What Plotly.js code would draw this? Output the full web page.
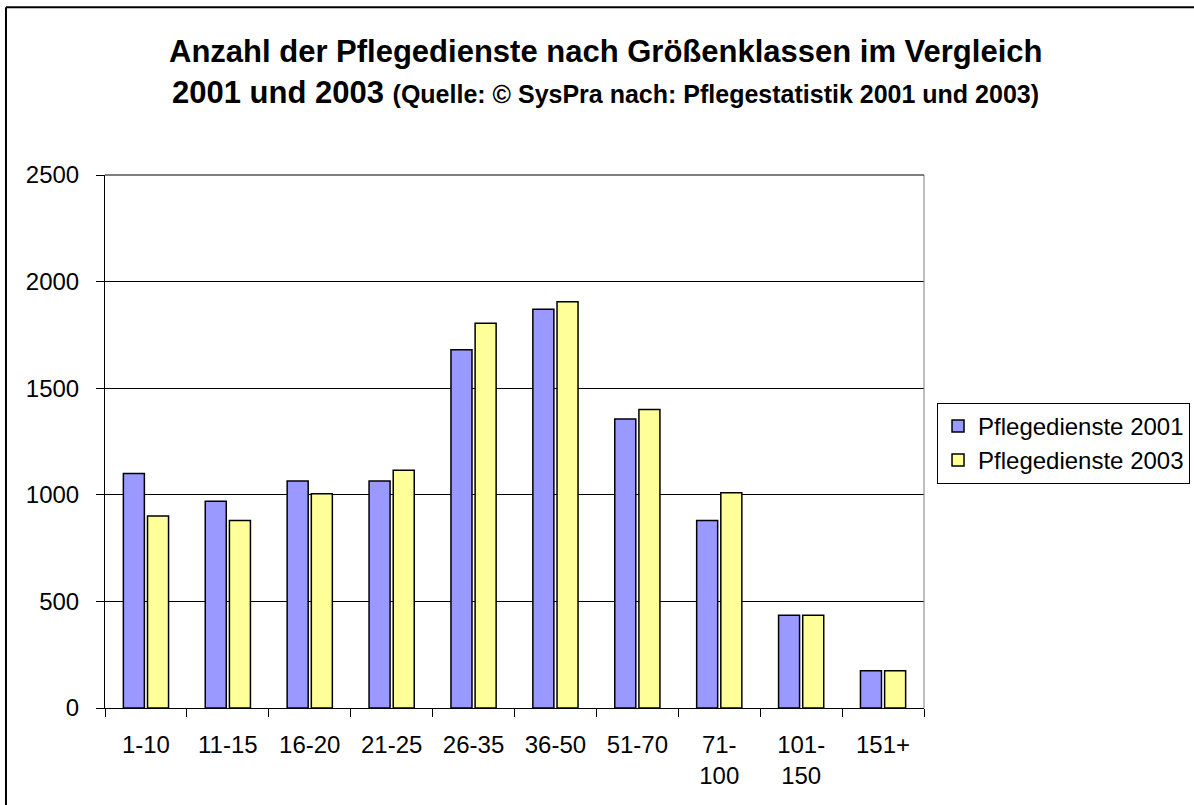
<!DOCTYPE html>
<html>
<head>
<meta charset="utf-8">
<script src="https://cdn.plot.ly/plotly-3.0.1.min.js"></script>
<style>
  html, body { margin: 0; padding: 0; background: #fff; }
  #chart { width: 1194px; height: 805px; }
</style>
</head>
<body>
<div id="chart"></div>
<script>
const categories = ["1-10", "11-15", "16-20", "21-25", "26-35", "36-50", "51-70", "71-100", "101-150", "151+"];
const tickLabels = ["1-10", "11-15", "16-20", "21-25", "26-35", "36-50", "51-70", "71-<br>100", "101-<br>150", "151+"];
const values2001 = [1100, 970, 1065, 1065, 1680, 1870, 1355, 880, 435, 175];
const values2003 = [900, 880, 1005, 1115, 1805, 1905, 1400, 1010, 435, 175];
const seriesNames = ["Pflegedienste 2001", "Pflegedienste 2003"];
const yTicks = [0, 500, 1000, 1500, 2000, 2500];

const FONT = "Arial, 'Liberation Sans', sans-serif";

const traces = [
  {
    type: "bar", name: seriesNames[0], x: categories, y: values2001,
    marker: { color: "#9999FF", line: { color: "#000000", width: 1.5 } }
  },
  {
    type: "bar", name: seriesNames[1], x: categories, y: values2003,
    marker: { color: "#FFFF99", line: { color: "#000000", width: 1.5 } }
  }
];

const layout = {
  width: 1194, height: 805,
  margin: { l: 105, r: 270, t: 175, b: 96.5, pad: 0, autoexpand: false },
  paper_bgcolor: "#ffffff", plot_bgcolor: "#ffffff",
  font: { family: FONT, size: 24, color: "#000000" },
  showlegend: true,
  bargap: 0.41, bargroupgap: 0.13,
  xaxis: {
    type: "category",
    tickvals: categories, ticktext: tickLabels,
    tickson: "boundaries", ticks: "outside", ticklen: 8, tickwidth: 1, tickcolor: "#000",
    showline: true, linecolor: "#000", linewidth: 1,
    showgrid: false, zeroline: false,
    tickfont: { family: FONT, size: 24, color: "#000" },
    ticklabelstandoff: 15,
    automargin: false,
    fixedrange: true
  },
  yaxis: {
    range: [0, 2500], tickvals: yTicks,
    ticks: "outside", ticklen: 8, tickwidth: 1, tickcolor: "#000",
    showline: true, linecolor: "#000", linewidth: 1,
    showgrid: true, gridcolor: "#000", gridwidth: 1,
    zeroline: false,
    tickfont: { family: FONT, size: 24, color: "#000" },
    ticklabelstandoff: 12,
    automargin: false,
    fixedrange: true
  },
  legend: {
    x: 1.0159, xanchor: "left", y: 0.5726, yanchor: "top",
    bordercolor: "#000", borderwidth: 1, bgcolor: "#fff",
    font: { family: FONT, size: 24, color: "#000" },
    itemwidth: 30
  },
  shapes: [
    { type: "line", xref: "paper", yref: "paper", x0: 1, x1: 1, y0: 0, y1: 1,
      line: { color: "#808080", width: 1 } },
    { type: "line", xref: "paper", yref: "paper", x0: 0, x1: 1, y0: 1, y1: 1,
      line: { color: "#000", width: 1 } },
    { type: "line", xref: "paper", yref: "paper", x0: -0.1209, x1: 1.34, y0: 1.3149, y1: 1.3149,
      line: { color: "#000", width: 2 } },
    { type: "line", xref: "paper", yref: "paper", x0: -0.1209, x1: -0.1209, y0: 1.3149, y1: -0.2,
      line: { color: "#000", width: 2 } }
  ],
  annotations: [
    { xref: "paper", yref: "paper", x: 0.6117, y: 1.2315, xanchor: "center", yanchor: "middle",
      showarrow: false, text: "<b>Anzahl der Pflegedienste nach Größenklassen im Vergleich</b>",
      font: { family: FONT, size: 31, color: "#000" } },
    { xref: "paper", yref: "paper", x: 0.6117, y: 1.1546, xanchor: "center", yanchor: "middle",
      showarrow: false,
      text: "<b>2001 und 2003 <span style='font-size:25px'>(Quelle: © SysPra nach: Pflegestatistik 2001 und 2003)</span></b>",
      font: { family: FONT, size: 31, color: "#000" } }
  ]
};

Plotly.newPlot("chart", traces, layout, { displayModeBar: false, staticPlot: true });
</script>
</body>
</html>
